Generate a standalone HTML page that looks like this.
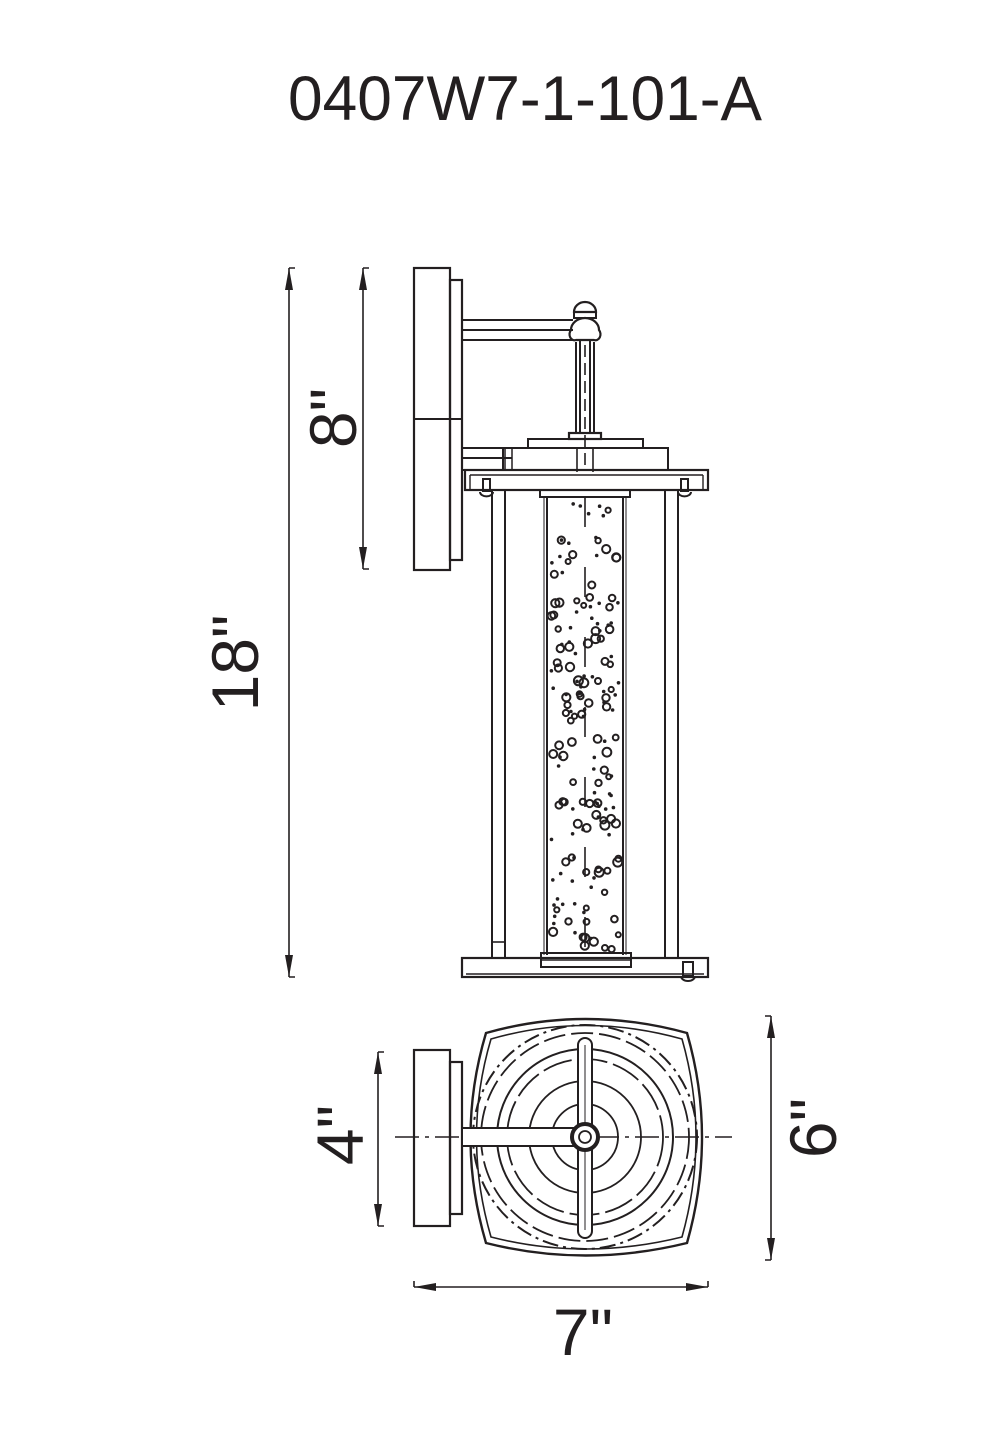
<!DOCTYPE html>
<html><head><meta charset="utf-8"><style>
html,body{margin:0;padding:0;background:#fff}
svg{display:block}
text{font-family:"Liberation Sans",sans-serif;fill:#231f20}
</style></head><body>
<svg id="s" width="1002" height="1452" viewBox="0 0 1002 1452" xmlns="http://www.w3.org/2000/svg">
<defs>
<marker id="ar" viewBox="0 0 22 10" refX="22" refY="5" markerWidth="22" markerHeight="10" orient="auto-start-reverse" markerUnits="userSpaceOnUse"><path d="M0 1 L22 5 L0 9 Z" fill="#231f20"/></marker>
</defs>
<text x="525" y="120" font-size="63" text-anchor="middle" textLength="474" lengthAdjust="spacingAndGlyphs">0407W7-1-101-A</text>

<g stroke="#231f20" stroke-width="1.6" fill="none">
<line x1="289" y1="268" x2="289" y2="977" marker-start="url(#ar)" marker-end="url(#ar)"/>
<path d="M289 268h6M289 977h6"/>
<line x1="363" y1="268" x2="363" y2="569" marker-start="url(#ar)" marker-end="url(#ar)"/>
<path d="M363 268h6M363 569h6"/>
<rect x="414" y="268" width="36" height="302" stroke-width="2.2"/>
<rect x="450" y="280" width="12" height="280" stroke-width="2.2"/>
<line x1="414" y1="419" x2="462" y2="419" stroke-width="2"/>
<path d="M462 320H573M462 330H573M462 340H573" stroke-width="2"/>
<path d="M462 448H512M462 458H512M462 470H512" stroke-width="2"/>
<rect x="505" y="448" width="7" height="22" stroke-width="1.5"/>
<path d="M574 312 a11 10 0 0 1 22 0 Z" stroke-width="2.2"/>
<rect x="574" y="312" width="22" height="6" stroke-width="2"/>
<path d="M571 330 a14 12 0 0 1 28 0 a5 6 0 0 1 -5 10 h-18 a5 6 0 0 1 -5 -10Z" stroke-width="2.2"/>
<path d="M576 342 V433 M594 342 V433 M580 340 V433 M590 340 V433" stroke-width="2"/>
<line x1="585" y1="345" x2="585" y2="470" stroke-dasharray="12 6" stroke-width="1.6"/>
<rect x="569" y="433" width="32" height="6" stroke-width="2.2"/>
<rect x="528" y="439" width="115" height="9" stroke-width="2"/>
<rect x="503" y="448" width="165" height="22" stroke-width="2"/>
<path d="M577 448V472M593 448V472" stroke-width="1.6"/>
<rect x="465" y="470" width="243" height="20" stroke-width="2.2"/>
<path d="M470 475H703M470 475V490M703 475V490" stroke-width="1.4"/>
<path d="M483 479h7v12h-7z M480 492 a6 4 0 0 0 13 0 M681 479h7v12h-7z M678 492 a6 4 0 0 0 13 0" stroke-width="2"/>
<rect x="492" y="490" width="13" height="468" stroke-width="2"/>
<line x1="492" y1="942" x2="505" y2="942" stroke-width="1.6"/>
<rect x="665" y="490" width="13" height="468" stroke-width="2"/>
<rect x="540" y="490" width="90" height="7" stroke-width="2"/>
<path d="M547 497V955 M623 497V955" stroke-width="2"/>
<path d="M544 497V955 M626 497V955" stroke-width="1"/>
<line x1="585" y1="497" x2="585" y2="975" stroke-dasharray="30 40" stroke-width="1.6"/>
<rect x="462" y="958" width="246" height="19" stroke-width="2.2"/>
<line x1="466" y1="974" x2="704" y2="974" stroke-width="1.4"/>
<rect x="541" y="953" width="90" height="14" stroke-width="2"/>
<line x1="541" y1="960" x2="631" y2="960" stroke-width="1.4"/>
<path d="M683 962h10v14h-10z M681 976 a7 5 0 0 0 14 0" stroke-width="2"/>
<g id="bub" stroke-width="2"></g>

<rect x="414" y="1050" width="36" height="176" stroke-width="2.2"/>
<rect x="450" y="1062" width="12" height="152" stroke-width="2.2"/>
<path d="M486 1033 Q585 1005 687 1033 Q717 1137 687 1243 Q585 1268 486 1243 Q455 1137 486 1033 Z" stroke-width="2.4"/>
<path d="M491 1039 Q585 1012 682 1039 Q710 1137 682 1237 Q585 1261 491 1237 Q462 1137 491 1039 Z" stroke-width="1.6"/>
<circle cx="585" cy="1137" r="112" stroke-dasharray="16 5 3 5" stroke-width="2"/>
<circle cx="585" cy="1137" r="104" stroke-dasharray="22 6" stroke-width="1.8"/>
<circle cx="585" cy="1137" r="88" stroke-width="2"/>
<circle cx="585" cy="1137" r="78" stroke-dasharray="30 6" stroke-width="1.8"/>
<circle cx="585" cy="1137" r="56" stroke-width="1.8"/>
<circle cx="585" cy="1137" r="33" stroke-width="1.8"/>
<line x1="395" y1="1137" x2="732" y2="1137" stroke-dasharray="24 6 4 6" stroke-width="1.6"/>
<rect x="462" y="1128" width="123" height="18" fill="#fff" stroke-width="2"/>
<rect x="578" y="1038" width="14" height="200" rx="7" fill="#fff" stroke-width="2"/>
<line x1="585" y1="1045" x2="585" y2="1230" stroke-width="1"/>
<circle cx="585" cy="1137" r="13" fill="#fff" stroke-width="4"/>
<circle cx="585" cy="1137" r="6" stroke-width="1.8"/>
<line x1="378" y1="1052" x2="378" y2="1226" marker-start="url(#ar)" marker-end="url(#ar)"/>
<path d="M378 1052h6M378 1226h6"/>
<line x1="771" y1="1016" x2="771" y2="1260" marker-start="url(#ar)" marker-end="url(#ar)"/>
<path d="M771 1016h-6M771 1260h-6"/>
<line x1="414" y1="1287" x2="708" y2="1287" marker-start="url(#ar)" marker-end="url(#ar)"/>
<path d="M414 1287v-6M708 1287v-6"/>
</g>
<text transform="translate(356,418) rotate(-90)" font-size="66" text-anchor="middle">8"</text>
<text transform="translate(258,663) rotate(-90)" font-size="66" text-anchor="middle">18"</text>
<text transform="translate(363,1135) rotate(-90)" font-size="66" text-anchor="middle">4"</text>
<text transform="translate(836,1128) rotate(-90)" font-size="66" text-anchor="middle">6"</text>
<text x="583" y="1355" font-size="66" text-anchor="middle">7"</text>
</svg>
<script>
var g=document.getElementById('bub'),s=12345;
function r(){s=(s*1103515245+12345)%2147483648;return s/2147483648;}
var h='';
for(var i=0;i<170;i++){var x=551+r()*68,y=502+r()*448,k=r();
if(k<0.45)h+='<circle cx="'+x.toFixed(1)+'" cy="'+y.toFixed(1)+'" r="1.8" fill="#231f20" stroke="none"/>';
else h+='<circle cx="'+x.toFixed(1)+'" cy="'+y.toFixed(1)+'" r="'+(2.5+r()*2).toFixed(1)+'"/>';}
g.innerHTML=h;
</script>
</body></html>
